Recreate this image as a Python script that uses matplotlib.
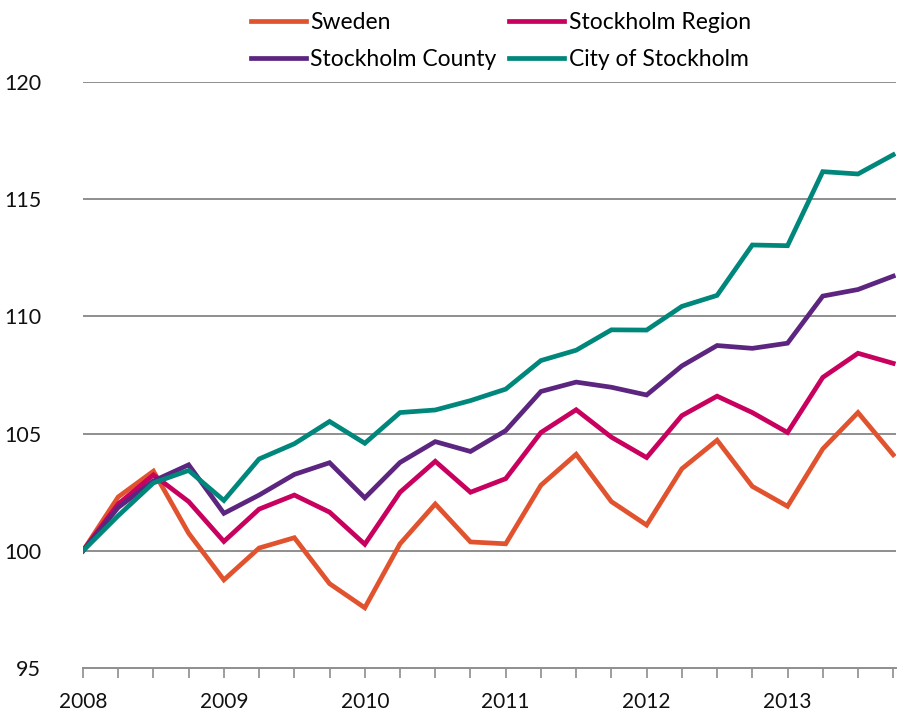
import numpy as np
import matplotlib.pyplot as plt

plt.rcParams['font.family'] = ['Lato', 'DejaVu Sans']

# Quarterly index, 2008 Q1 = 100
start_year = 2008
sweden = [100.0, 102.3, 103.4, 100.75, 98.76, 100.12, 100.56, 98.6, 97.57, 100.3,
          102.0, 100.38, 100.3, 102.8, 104.12, 102.1, 101.1, 103.5, 104.72, 102.75,
          101.9, 104.35, 105.9, 104.1]
stockholm_region = [100.0, 102.0, 103.24, 102.1, 100.4, 101.78, 102.38, 101.65, 100.28, 102.5,
                    103.82, 102.5, 103.08, 105.05, 106.02, 104.85, 103.98, 105.77, 106.6, 105.9,
                    105.05, 107.4, 108.43, 108.0]
stockholm_county = [100.0, 101.85, 102.98, 103.67, 101.6, 102.38, 103.26, 103.76, 102.26, 103.77,
                    104.66, 104.24, 105.13, 106.8, 107.2, 106.98, 106.65, 107.89, 108.76, 108.64,
                    108.86, 110.87, 111.15, 111.72]
city_of_stockholm = [100.0, 101.5, 102.9, 103.43, 102.15, 103.92, 104.57, 105.52, 104.59, 105.9,
                     106.01, 106.41, 106.9, 108.12, 108.56, 109.43, 109.42, 110.43, 110.9, 113.05,
                     113.02, 116.18, 116.08, 116.9]
series_names = ['Sweden', 'Stockholm Region', 'Stockholm County', 'City of Stockholm']
year_labels = ['2008', '2009', '2010', '2011', '2012', '2013']
y_ticks = [95, 100, 105, 110, 115, 120]

colors = ['#E1522E', '#C8005E', '#5C2580', '#00877B']
grid_color = '#8E8E8E'

x = start_year + np.arange(len(sweden)) / 4.0

fig = plt.figure(figsize=(8.99, 7.14), dpi=100)
ax = fig.add_axes([0.0923, 0.0644, 0.9044, 0.8206])

all_series = [sweden, stockholm_region, stockholm_county, city_of_stockholm]
lines = []
for name, vals, c in zip(series_names, all_series, colors):
    ln, = ax.plot(x, vals, color=c, lw=3.4, label=name, solid_joinstyle='miter', zorder=3)
    lines.append(ln)

for yv in y_ticks[1:]:
    ax.axhline(yv, color=grid_color, lw=1.4, zorder=1)

ax.set_xlim(start_year, start_year + (len(sweden) - 1) / 4.0 + 0.02)
ax.set_ylim(95, 120)
ax.set_yticks(y_ticks)
ax.set_yticklabels([str(v) for v in y_ticks])
ax.set_xticks(np.arange(len(sweden)) / 4.0 + start_year)
ax.set_xticklabels([year_labels[i // 4] if i % 4 == 0 else '' for i in range(len(sweden))])

for s in ['top', 'right', 'left']:
    ax.spines[s].set_visible(False)
ax.spines['bottom'].set_color(grid_color)
ax.spines['bottom'].set_linewidth(1.4)
ax.tick_params(axis='x', direction='out', length=7, width=1.2, color=grid_color,
               labelsize=15, pad=10, labelcolor='#111111')
ax.tick_params(axis='y', length=0, labelsize=15.5, pad=30, labelcolor='#111111')

# legend filled row by row: matplotlib fills columns, so reorder
order = [0, 2, 1, 3]
fig.legend([lines[i] for i in order], [series_names[i] for i in order],
           loc='upper center', bbox_to_anchor=(0.557, 1.012), ncol=2, frameon=False,
           fontsize=16.5, handlelength=2.4, handletextpad=0.2, columnspacing=0.55,
           labelspacing=0.7)

fig.savefig('out.png', dpi=100)
